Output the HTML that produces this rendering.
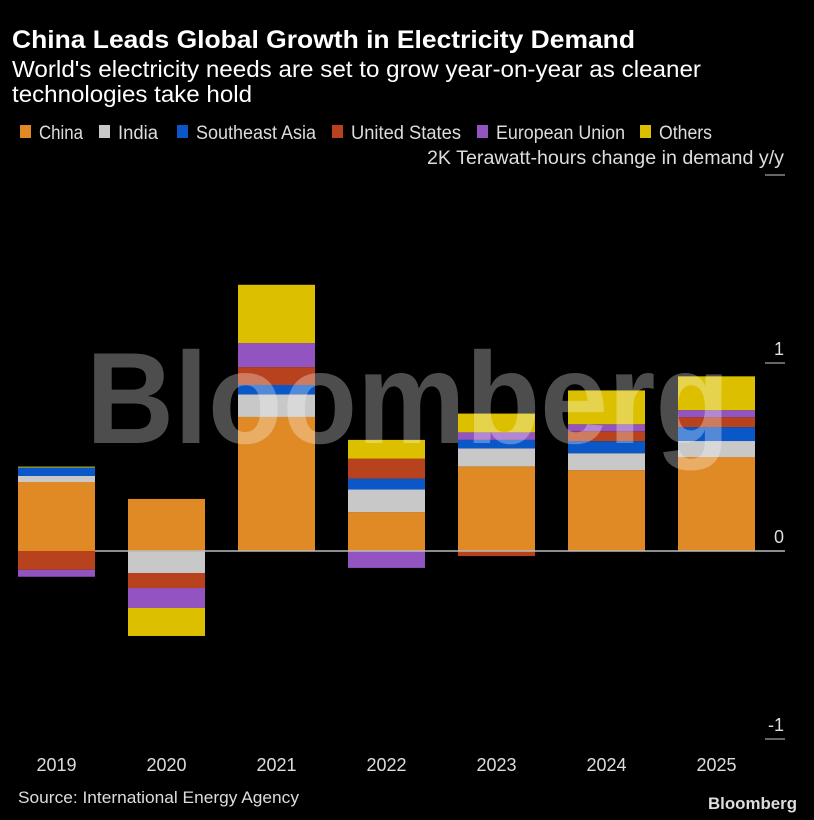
<!DOCTYPE html>
<html><head><meta charset="utf-8">
<style>
html,body{margin:0;padding:0;background:#000;width:814px;height:820px;overflow:hidden}
svg{display:block}
text{font-family:"Liberation Sans Narrow","Liberation Sans",sans-serif}
</style></head>
<body>
<svg id="chart" width="814" height="820" viewBox="0 0 814 820" xmlns="http://www.w3.org/2000/svg">
<rect width="814" height="820" fill="#000"/>
<text x="12" y="48" fill="#fff" font-size="25" font-weight="bold" textLength="623" lengthAdjust="spacingAndGlyphs">China Leads Global Growth in Electricity Demand</text>
<text x="12" y="77" fill="#fff" font-size="23" textLength="689" lengthAdjust="spacingAndGlyphs">World's electricity needs are set to grow year-on-year as cleaner</text>
<text x="12" y="102" fill="#fff" font-size="23" textLength="240" lengthAdjust="spacingAndGlyphs">technologies take hold</text>
<g id="legend"></g>
<text x="427" y="164" fill="#ddd" font-size="19" textLength="357" lengthAdjust="spacingAndGlyphs">2K Terawatt-hours change in demand y/y</text>
<g id="axis"></g>
<g id="bars"></g>
<text x="86" y="443" fill="#fff" fill-opacity="0.3" font-size="130" font-weight="bold" style="font-family:'Liberation Sans',sans-serif" textLength="644" lengthAdjust="spacingAndGlyphs">Bloomberg</text>
<g id="xlabels"></g>
<text x="18" y="803" fill="#ddd" font-size="17" textLength="281" lengthAdjust="spacingAndGlyphs">Source: International Energy Agency</text>
<text x="708" y="809" fill="#ddd" font-size="17" font-weight="bold" style="font-family:'Liberation Sans',sans-serif" textLength="89" lengthAdjust="spacingAndGlyphs">Bloomberg</text>
</svg>
<script>
const categories = ["2019","2020","2021","2022","2023","2024","2025"];
const seriesNames = ["China","India","Southeast Asia","United States","European Union","Others"];
const seriesColors = ["#e08a25","#c8c8c8","#0a58c8","#b8421e","#9254c0","#dcc000"];
const china = [0.367, 0.277, 0.713, 0.207, 0.45, 0.43, 0.5];
const india = [0.032, -0.117, 0.12, 0.12, 0.096, 0.09, 0.085];
const seAsia = [0.045, 0, 0.05, 0.058, 0.045, 0.064, 0.074];
const us = [-0.10, -0.08, 0.095, 0.106, -0.027, 0.053, 0.053];
const eu = [-0.037, -0.106, 0.128, -0.09, 0.04, 0.037, 0.037];
const others = [0.005, -0.149, 0.31, 0.1, 0.1, 0.18, 0.18];
const yTicks = [-1, 0, 1, 2];
const yTickLabels = ["-1", "0", "1", ""];

const NS = "http://www.w3.org/2000/svg";
const y0 = 551, unit = 188;
function yScale(v){ return y0 - v*unit; }
function xScale(i){ return 56.5 + i*110; }
const barW = 77;
function mk(tag, attrs, parent){ const e=document.createElementNS(NS,tag); for(const k in attrs) e.setAttribute(k,attrs[k]); parent.appendChild(e); return e; }

// legend
const legend = document.getElementById("legend");
const legendX = [20,99,177,332,477,640];
const legendTW = [44,40,120,110,129,53];
seriesNames.forEach((n,i)=>{
  const g = mk("g",{},legend);
  
  
  mk("rect",{x:legendX[i],y:125,width:11,height:13,fill:seriesColors[i]},g);
  const t = mk("text",{x:legendX[i]+19,y:139,fill:"#ddd","font-size":19,textLength:legendTW[i],lengthAdjust:"spacingAndGlyphs"},g);
  t.textContent = n;
});

// axis
const axis = document.getElementById("axis");
yTicks.forEach((v,i)=>{
  const l = mk("line",{x1:765,x2:785,y1:yScale(v),y2:yScale(v),stroke:"#ccc","stroke-width":1},axis);
  
  
  if(yTickLabels[i]){
    const t = mk("text",{x:784,y:yScale(v)-8,fill:"#ddd","font-size":18,"text-anchor":"end"},axis);
    
    
    t.textContent = yTickLabels[i];
  }
});

// bars
const bars = document.getElementById("bars");
const all = [china, india, seAsia, us, eu, others];
categories.forEach((c,i)=>{
  let pos = 0, neg = 0;
  all.forEach((s,si)=>{
    const v = s[i]; if(!v) return;
    let top, bot;
    if(v>0){ bot=pos; pos+=v; top=pos; } else { top=neg; neg+=v; bot=neg; }
    const r = mk("rect",{x:xScale(i)-barW/2,y:yScale(top),width:barW,height:yScale(bot)-yScale(top),fill:seriesColors[si]},bars);
    
    
  });
});
const zl = mk("line",{x1:95,x2:785,y1:y0,y2:y0,stroke:"#bbb","stroke-width":1.5},bars);



const xl = document.getElementById("xlabels");
categories.forEach((c,i)=>{
  const t = mk("text",{x:xScale(i),y:771,fill:"#ddd","font-size":18,"text-anchor":"middle"},xl);
  
  
  t.textContent = c;
});
</script>
</body></html>
